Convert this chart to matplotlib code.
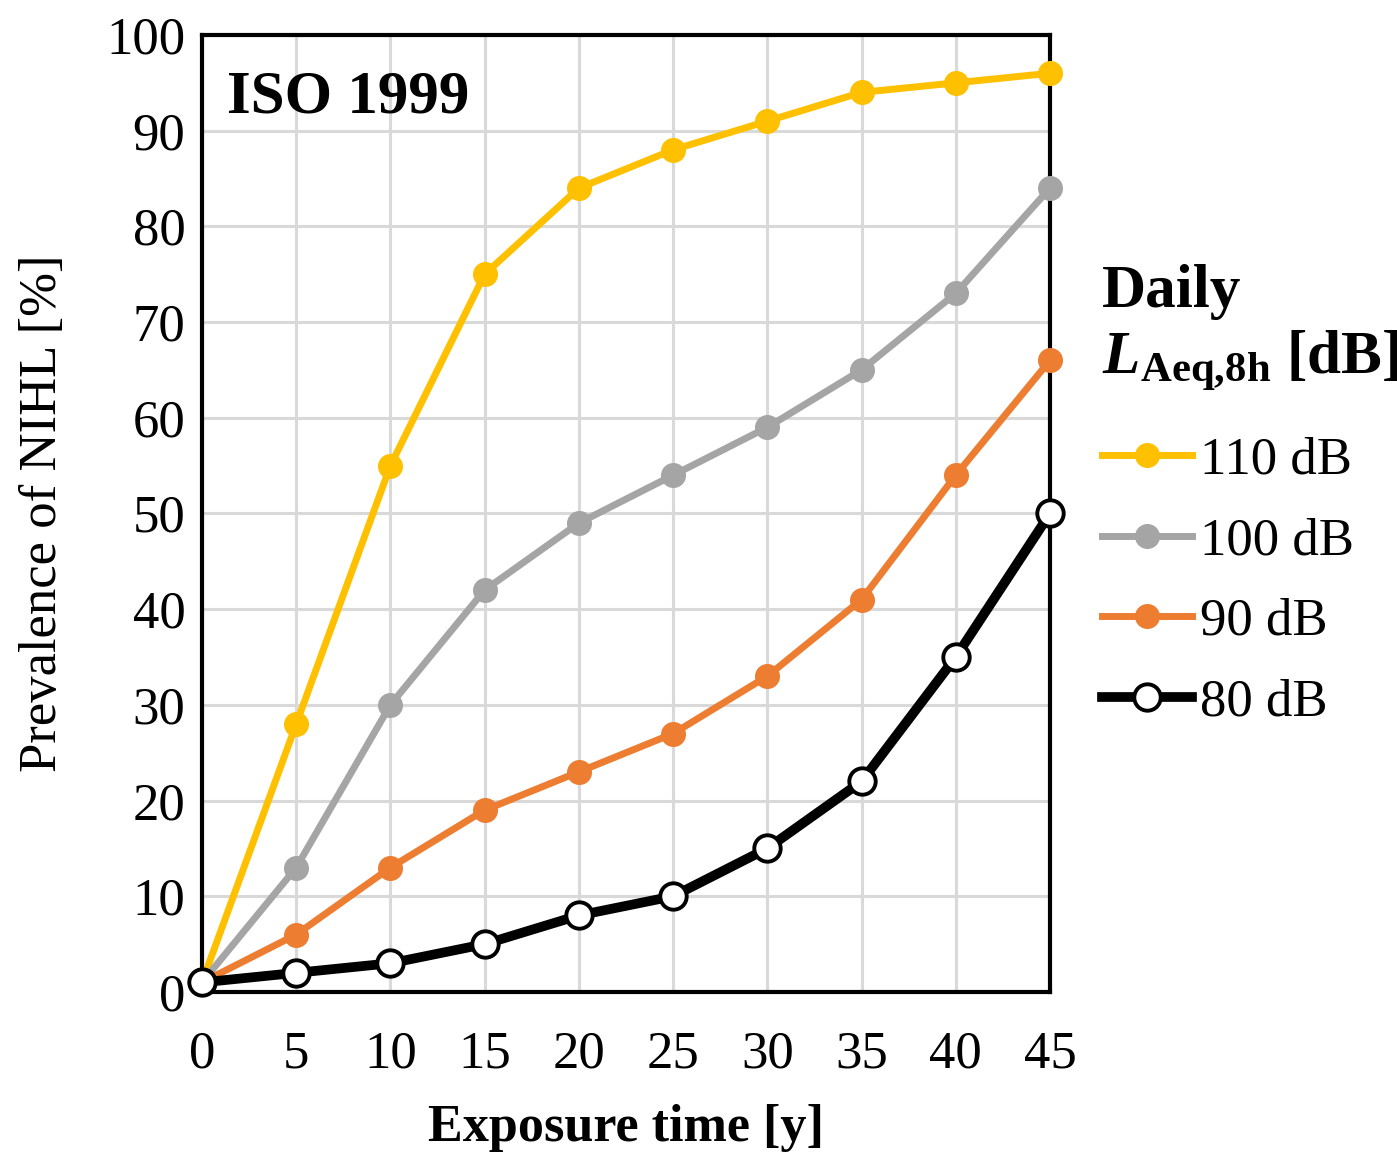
import matplotlib
matplotlib.use("Agg")
import matplotlib.pyplot as plt

plt.rcParams['font.family'] = ['Liberation Serif', 'DejaVu Serif']
plt.rcParams['mathtext.fontset'] = 'custom'
plt.rcParams['mathtext.rm'] = 'Liberation Serif'
plt.rcParams['mathtext.it'] = 'Liberation Serif:italic'
plt.rcParams['mathtext.bf'] = 'Liberation Serif:bold'
plt.rcParams['mathtext.bfit'] = 'Liberation Serif:bold:italic'

years = [0, 5, 10, 15, 20, 25, 30, 35, 40, 45]
db110 = [1, 28, 55, 75, 84, 88, 91, 94, 95, 96]
db100 = [1, 13, 30, 42, 49, 54, 59, 65, 73, 84]
db90 = [1, 6, 13, 19, 23, 27, 33, 41, 54, 66]
db80 = [1, 2, 3, 5, 8, 10, 15, 22, 35, 50]
labels = ["110 dB", "100 dB", "90 dB", "80 dB"]

fig = plt.figure(figsize=(13.97, 11.54), dpi=100)
ax = fig.add_axes([0.1446, 0.1404, 0.607, 0.8293])

ax.plot(years, db110, color='#FFC000', lw=5, marker='o', ms=17, mec='#FFC000', label=labels[0],
        zorder=3, clip_on=False)
ax.plot(years, db100, color='#A5A5A5', lw=5, marker='o', ms=17, mec='#A5A5A5', label=labels[1],
        zorder=3, clip_on=False)
ax.plot(years, db90, color='#ED7D31', lw=5, marker='o', ms=17, mec='#ED7D31', label=labels[2],
        zorder=3, clip_on=False)
ax.plot(years, db80, color='black', lw=7, marker='o', ms=19, mfc='white', mec='black', mew=2.8,
        label=labels[3], zorder=4, clip_on=False)

ax.set_xlim(0, 45)
ax.set_ylim(0, 100)
ax.set_xticks(years)
ax.set_yticks(range(0, 101, 10))
ax.grid(True, color='#D9D9D9', lw=2.2)
ax.set_axisbelow(True)
for s in ax.spines.values():
    s.set_linewidth(3)
    s.set_color('black')
    s.set_zorder(2.5)
ax.tick_params(axis='both', length=0, labelsize=38, pad=12)
ax.tick_params(axis='x', pad=28)

ax.set_xlabel("Exposure time [y]", fontsize=37.5, fontweight='bold', labelpad=18)
ax.set_ylabel("Prevalence of NIHL [%]", fontsize=38, labelpad=28)

ax.text(0.03, 0.9635, "ISO 1999", transform=ax.transAxes, fontsize=44, fontweight='bold',
        va='top', ha='left')

leg = fig.legend(loc='upper left', bbox_to_anchor=(1102 / 1397, 1 - 264 / 1154),
                 frameon=False, fontsize=38, handlelength=1.7, handletextpad=0.15,
                 labelspacing=0.62, borderaxespad=0, borderpad=0,
                 title="Daily\n" + r"$\mathbfit{L}_{\mathbf{Aeq{,}8h}}$ [dB]",
                 title_fontproperties={'size': 44, 'weight': 'bold'})
leg._legend_box.align = 'left'
leg._legend_box.sep = 31

fig.savefig("out.png", dpi=100)
